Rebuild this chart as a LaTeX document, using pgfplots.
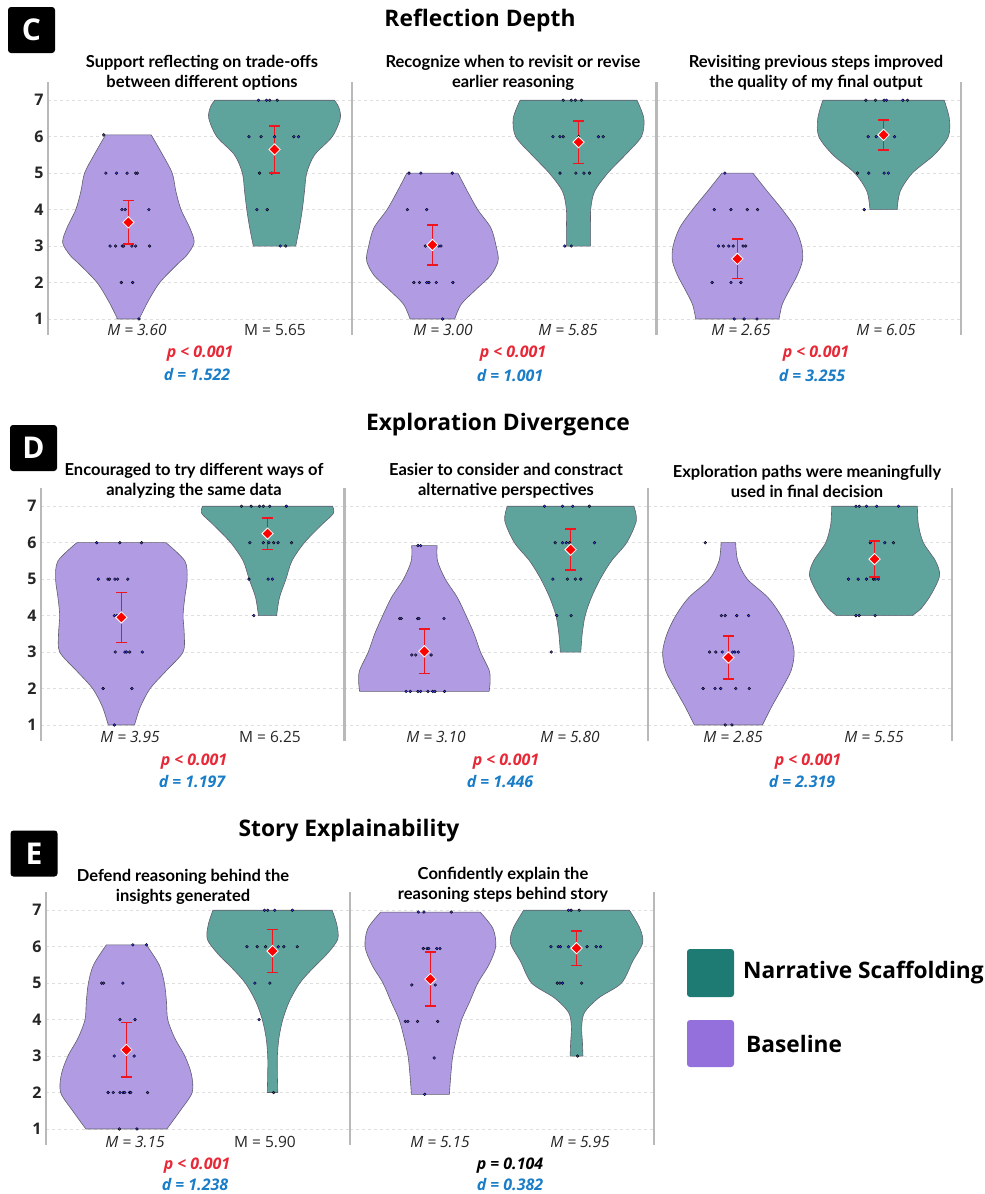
\documentclass[border=0pt]{standalone}
\usepackage{fontspec}
\setmainfont{Open Sans}
\newfontfamily\lato{Lato}
\usepackage{pgfplots}
\pgfplotsset{compat=1.18}
\usepackage{pgfplotstable}
\usepgfplotslibrary{fillbetween}

\definecolor{vpurple}{RGB}{177,155,227}
\definecolor{vteal}{RGB}{95,163,157}
\definecolor{lteal}{RGB}{30,123,116}
\definecolor{lpurple}{RGB}{147,112,219}
\definecolor{vout}{RGB}{95,95,110}
\definecolor{dotc}{RGB}{62,62,215}
\definecolor{axgray}{RGB}{185,185,185}
\definecolor{gridgray}{RGB}{222,222,222}
\definecolor{pred}{RGB}{232,40,55}
\definecolor{dblue}{RGB}{25,125,200}
\definecolor{ebred}{RGB}{240,20,30}

% ---------- violin profiles (y, half width) ----------
\pgfplotstableread{
y w
1.0 0.075
1.05 0.08
1.5 0.137
2.0 0.215
2.5 0.335
2.75 0.40
3.1 0.45
3.5 0.42
4.0 0.36
4.5 0.325
5.0 0.30
5.5 0.235
6.05 0.156
}\CaP
\pgfplotstableread{
y w
3.0 0.145
3.5 0.17
4.0 0.19
4.5 0.205
5.0 0.22
5.5 0.274
6.0 0.395
6.5 0.45
6.8 0.44
7.0 0.41
}\CaT
\pgfplotstableread{
y w
1.0 0.153
1.4 0.197
1.8 0.296
2.2 0.40
2.6 0.45
3.0 0.436
3.5 0.40
4.0 0.31
4.5 0.24
5.0 0.175
}\CbP
\pgfplotstableread{
y w
3.0 0.083
3.5 0.083
4.0 0.083
4.5 0.11
5.0 0.20
5.5 0.32
6.0 0.43
6.5 0.447
7.0 0.40
}\CbT
\pgfplotstableread{
y w
1.0 0.285
1.4 0.307
1.8 0.357
2.2 0.41
2.6 0.445
3.0 0.44
3.5 0.395
4.0 0.307
4.5 0.205
5.0 0.106
}\CcP
\pgfplotstableread{
y w
4.0 0.093
4.5 0.114
5.0 0.197
5.5 0.346
6.0 0.443
6.5 0.45
7.0 0.415
}\CcT
\pgfplotstableread{
y w
1.0 0.09
1.5 0.13
2.0 0.197
2.5 0.31
3.0 0.422
3.5 0.43
4.0 0.422
4.5 0.434
5.0 0.45
5.5 0.434
6.0 0.305
}\DaP
\pgfplotstableread{
y w
4.0 0.062
4.5 0.082
5.0 0.126
5.5 0.167
6.0 0.252
6.5 0.373
6.8 0.45
7.0 0.445
}\DaT
\pgfplotstableread{
y w
1.92 0.443
2.2 0.45
2.5 0.443
3.0 0.384
3.5 0.34
4.0 0.285
4.5 0.225
5.0 0.143
5.5 0.09
5.92 0.087
}\DbP
\pgfplotstableread{
y w
3.0 0.07
3.5 0.08
4.0 0.10
4.5 0.143
5.0 0.203
5.5 0.28
6.0 0.384
6.6 0.45
7.0 0.433
}\DbT
\pgfplotstableread{
y w
1.0 0.233
1.5 0.296
2.0 0.366
2.5 0.43
3.0 0.45
3.5 0.42
4.0 0.36
4.5 0.27
5.0 0.13
5.5 0.064
6.0 0.05
}\DcP
\pgfplotstableread{
y w
4.0 0.258
4.2 0.32
4.6 0.39
5.1 0.445
5.5 0.417
6.0 0.334
6.5 0.30
7.0 0.293
}\DcT
\pgfplotstableread{
y w
1.0 0.277
1.5 0.368
2.0 0.45
2.5 0.445
3.0 0.40
3.5 0.33
4.0 0.283
4.5 0.274
5.0 0.26
5.5 0.225
6.05 0.137
}\EaP
\pgfplotstableread{
y w
2.0 0.036
2.5 0.033
3.0 0.033
3.5 0.044
4.0 0.07
4.5 0.115
5.0 0.186
5.4 0.274
5.8 0.373
6.2 0.446
6.6 0.44
7.0 0.408
}\EaT
\pgfplotstableread{
y w
1.95 0.13
2.5 0.14
3.0 0.153
3.5 0.18
4.0 0.214
4.5 0.27
5.0 0.324
5.5 0.40
6.0 0.447
6.5 0.428
6.95 0.34
}\EbP
\pgfplotstableread{
y w
3.0 0.044
3.4 0.04
3.8 0.035
4.2 0.055
4.6 0.153
5.0 0.307
5.6 0.384
6.1 0.452
6.5 0.434
7.0 0.362
}\EbT

% ---------- individual responses (jitter dx, y) ----------
\pgfplotstableread{
dx y
-0.169 6.05
-0.154 5
-0.081 5
-0.009 5
0.050 5
0.061 5
-0.044 4
-0.022 4
0.140 4
-0.125 3
-0.088 3
-0.042 3
-0.033 3
0.024 3
0.050 3
0.145 3
-0.048 2
0.029 2
0.072 1
}\dCaP
\pgfplotstableread{
dx y
-0.110 7
-0.055 7
-0.033 7
0.018 7
-0.175 6
-0.092 6
0 6
0.132 6
0.164 6
-0.103 5
-0.018 5
-0.121 4
-0.050 4
0.039 3
0.077 3
}\dCaT
\pgfplotstableread{
dx y
-0.160 5
-0.079 5
0.136 5
-0.171 4
-0.039 4
-0.048 3
-0.013 3
0.044 3
0.059 3
-0.127 2
-0.088 2
-0.039 2
-0.024 2
0.026 2
0.140 2
0.070 1
}\dCbP
\pgfplotstableread{
dx y
-0.105 7
-0.050 7
-0.022 7
0.020 7
-0.175 6
-0.127 6
-0.105 6
0 6
0.136 6
0.169 6
-0.127 5
-0.018 5
0.037 5
0.075 5
-0.094 3
-0.050 3
}\dCbT
\pgfplotstableread{
dx y
-0.086 5
-0.158 4
-0.044 4
0.068 4
0.138 4
-0.129 3
-0.096 3
-0.059 3
-0.029 3
0.039 3
0.057 3
-0.173 2
-0.044 2
0.024 2
-0.022 1
0.046 1
0.134 1
}\dCcP
\pgfplotstableread{
dx y
-0.121 7
-0.055 7
0.004 7
0.020 7
0.132 7
0.164 7
-0.105 6
-0.050 6
0 6
0.075 6
-0.178 5
-0.101 5
0.004 5
0.033 5
-0.132 4
}\dCcT
\pgfplotstableread{
dx y
-0.169 6
-0.011 6
0.138 6
-0.158 5
-0.092 5
-0.081 5
-0.044 5
-0.026 5
0.044 5
-0.048 4
-0.031 4
-0.042 3
0.024 3
0.035 3
0.057 3
0.143 3
-0.125 2
0.072 2
-0.048 1
}\dDaP
\pgfplotstableread{
dx y
-0.178 7
-0.112 7
-0.055 7
-0.029 7
0.015 7
0.129 7
-0.121 6
-0.029 6
0.009 6
0.042 6
0.072 6
0.164 6
-0.127 5
0.004 5
0.033 5
-0.094 4
}\dDaT
\pgfplotstableread{
dx y
-0.044 5.92
-0.026 5.92
-0.169 3.92
-0.158 3.92
-0.046 3.92
-0.037 3.92
0.134 3.92
-0.086 2.92
-0.059 2.92
0.046 2.92
-0.125 1.92
-0.096 1.92
-0.044 1.92
-0.026 1.92
0.024 1.92
0.057 1.92
0.072 1.92
0.138 1.92
}\dDbP
\pgfplotstableread{
dx y
-0.178 7
-0.055 7
0.015 7
0.129 7
-0.105 6
-0.055 6
-0.029 6
-0.007 6
0.164 6
-0.121 5
-0.022 5
0.033 5
0.070 5
-0.094 4
0.004 4
-0.132 3
}\dDbT
\pgfplotstableread{
dx y
-0.158 6
-0.048 4
-0.022 4
0.057 4
0.138 4
-0.129 3
-0.086 3
-0.042 3
0.029 3
0.044 3
0.068 3
-0.173 2
-0.092 2
-0.053 2
0.050 2
0.143 2
-0.022 1
0.024 1
}\dDcP
\pgfplotstableread{
dx y
-0.127 7
-0.105 7
-0.055 7
0.015 7
0.164 7
-0.029 6
0.070 6
0.129 6
-0.178 5
-0.112 5
-0.055 5
-0.007 5
0.004 5
0.026 5
-0.127 4
-0.105 4
0.004 4
}\dDcT
\pgfplotstableread{
dx y
0.044 6.05
0.138 6.05
-0.169 5
-0.156 5
-0.024 5
-0.044 4
0.059 4
-0.083 3
0.053 3
-0.125 2
-0.090 2
-0.044 2
-0.022 2
-0.011 2
0.022 2
0.029 2
0.145 2
-0.048 1
0.072 1
}\dEaP
\pgfplotstableread{
dx y
-0.055 7
-0.033 7
0.015 7
0.136 7
-0.175 6
-0.105 6
-0.048 6
0.039 6
0.077 6
0.169 6
-0.121 5
-0.018 5
-0.092 4
0.007 2
}\dEaT
\pgfplotstableread{
dx y
-0.083 6.95
-0.044 6.95
0.143 6.95
-0.048 5.95
-0.022 5.95
-0.011 5.95
0.044 5.95
0.066 5.95
-0.127 4.95
0.033 4.95
-0.171 3.95
-0.154 3.95
-0.088 3.95
0.050 3.95
0.026 2.95
-0.039 1.95
}\dEbP
\pgfplotstableread{
dx y
-0.055 7
-0.037 7
0.018 7
-0.175 6
-0.125 6
-0.110 6
-0.055 6
0 6
0.072 6
0.134 6
0.164 6
-0.132 5
-0.114 5
-0.096 5
0.035 5
0.007 3
}\dEbT

\newcommand{\violin}[4]{%
\addplot[draw=none, smooth, name path=#4R] table[x expr={#2+\thisrow{w}}, y=y] {#1};
\addplot[draw=none, smooth, name path=#4L] table[x expr={#2-\thisrow{w}}, y=y] {#1};
\addplot[fill=#3, draw=vout, line width=0.6pt] fill between[of=#4R and #4L, reverse=true];
}
\newcommand{\jit}[2]{%
\addplot[only marks, mark=*, mark size=1.4pt, mark options={draw=none, fill=dotc}] table[x expr={#2+\thisrow{dx}}, y=y] {#1};
}
% x, mean, low, high
\newcommand{\mbar}[4]{%
\addplot[draw=ebred, line width=1.5pt, mark=-, mark size=5.5pt, mark options={draw=ebred, line width=1.5pt}] coordinates {(#1,#3) (#1,#4)};
\addplot[only marks, mark=square*, mark size=4pt, mark options={rotate=45, fill=red, draw=white, line width=0.8pt}] coordinates {(#1,#2)};
}

\pgfplotsset{vstyle/.style={
  scale only axis, width=304pt, height=253pt,
  xmin=-0.55, xmax=1.53, ymin=0.56, ymax=7.5,
  axis x line=none, axis y line=box, xtick=\empty,
  y axis line style={draw=axgray, line width=1.6pt},
  ytick={1,2,3,4,5,6,7}, ymajorgrids,
  grid style={dashed, gridgray, line width=0.6pt},
  major tick length=0pt,
  yticklabel={\bfseries\fontsize{16}{18}\selectfont\pgfmathprintnumber[assume math mode=true]{\tick}},
  yticklabel style={xshift=-1pt, text=black!85},
  clip=false, anchor=north west,
}, noticks/.style={yticklabel style={opacity=0}}}
\tikzset{
  ptitle/.style={font=\lato\bfseries\fontsize{16.5}{20}\selectfont, align=center, inner sep=0pt},
  stitle/.style={font=\bfseries\fontsize{22.8}{26}\selectfont, inner sep=0pt},
  mlab/.style={font=\itshape\fontsize{15.5}{17}\selectfont, inner sep=0pt, text=black!85},
  mlabu/.style={font=\fontsize{15.5}{17}\selectfont, inner sep=0pt, text=black!85},
  plab/.style={font=\bfseries\itshape\fontsize{16}{18}\selectfont, inner sep=0pt, text=pred},
  dlab/.style={font=\bfseries\itshape\fontsize{16}{18}\selectfont, inner sep=0pt, text=dblue},
  boxlab/.style={fill=black, rounded corners=3pt, minimum width=47pt, minimum height=46pt, text=white, font=\bfseries\fontsize{30}{32}\selectfont, inner sep=0pt},
}

\begin{document}
\begin{tikzpicture}

% ===================== C =====================
\node[boxlab] at (31.5pt,-30pt) {C};
\node[stitle] at (480pt,-21pt) {Reflection Depth};

\begin{axis}[vstyle, at={(48pt,-82pt)}]
\violin{\CaP}{0}{vpurple}{caP}
\violin{\CaT}{1}{vteal}{caT}
\jit{\dCaP}{0}\jit{\dCaT}{1}
\mbar{0}{3.65}{3.05}{4.25}\mbar{1}{5.65}{5.01}{6.29}
\end{axis}
\begin{axis}[vstyle, noticks, at={(352pt,-82pt)}]
\violin{\CbP}{0}{vpurple}{cbP}
\violin{\CbT}{1}{vteal}{cbT}
\jit{\dCbP}{0}\jit{\dCbT}{1}
\mbar{0}{3.03}{2.48}{3.58}\mbar{1}{5.85}{5.27}{6.43}
\end{axis}
\begin{axis}[vstyle, noticks, at={(657pt,-82pt)}]
\violin{\CcP}{0}{vpurple}{ccP}
\violin{\CcT}{1}{vteal}{ccT}
\jit{\dCcP}{0}\jit{\dCcT}{1}
\mbar{0}{2.65}{2.11}{3.19}\mbar{1}{6.05}{5.64}{6.46}
\end{axis}

\node[ptitle] at (202pt,-73pt) {Support reflecting on trade-offs\\between different options};
\node[ptitle] at (513pt,-73pt) {Recognize when to revisit or revise\\earlier reasoning};
\node[ptitle] at (816pt,-73pt) {Revisiting previous steps improved\\the quality of my final output};

\node[mlab] at (137pt,-330pt) {M = 3.60};
\node[mlabu] at (275pt,-330pt) {M = 5.65};
\node[mlab] at (443pt,-330pt) {M = 3.00};
\node[mlab] at (568pt,-330pt) {M = 5.85};
\node[mlab] at (741pt,-330pt) {M = 2.65};
\node[mlab] at (886pt,-330pt) {M = 6.05};
\node[plab] at (200pt,-354pt) {p < 0.001};
\node[dlab] at (197pt,-375pt) {d = 1.522};
\node[plab] at (513pt,-354pt) {p < 0.001};
\node[dlab] at (510pt,-376pt) {d = 1.001};
\node[plab] at (816pt,-354pt) {p < 0.001};
\node[dlab] at (812pt,-376pt) {d = 3.255};

% ===================== D =====================
\node[boxlab] at (33.5pt,-448pt) {D};
\node[stitle] at (498pt,-425pt) {Exploration Divergence};

\begin{axis}[vstyle, at={(41pt,-488pt)}]
\violin{\DaP}{0}{vpurple}{daP}
\violin{\DaT}{1}{vteal}{daT}
\jit{\dDaP}{0}\jit{\dDaT}{1}
\mbar{0}{3.95}{3.26}{4.64}\mbar{1}{6.25}{5.82}{6.68}
\end{axis}
\begin{axis}[vstyle, noticks, at={(344pt,-488pt)}]
\violin{\DbP}{0}{vpurple}{dbP}
\violin{\DbT}{1}{vteal}{dbT}
\jit{\dDbP}{0}\jit{\dDbT}{1}
\mbar{0}{3.02}{2.41}{3.63}\mbar{1}{5.81}{5.25}{6.37}
\end{axis}
\begin{axis}[vstyle, noticks, at={(648pt,-488pt)}]
\violin{\DcP}{0}{vpurple}{dcP}
\violin{\DcT}{1}{vteal}{dcT}
\jit{\dDcP}{0}\jit{\dDcT}{1}
\mbar{0}{2.85}{2.26}{3.44}\mbar{1}{5.55}{5.06}{6.04}
\end{axis}

\node[ptitle] at (194pt,-481pt) {Encouraged to try different ways of\\analyzing the same data};
\node[ptitle] at (506pt,-481pt) {Easier to consider and constract\\alternative perspectives};
\node[ptitle] at (807pt,-481pt) {Exploration paths were meaningfully\\used in final decision};

\node[mlab] at (130pt,-737pt) {M = 3.95};
\node[mlabu] at (270pt,-737pt) {M = 6.25};
\node[mlab] at (436pt,-737pt) {M = 3.10};
\node[mlab] at (570pt,-737pt) {M = 5.80};
\node[mlab] at (733pt,-737pt) {M = 2.85};
\node[mlab] at (874pt,-737pt) {M = 5.55};
\node[plab] at (194pt,-762pt) {p < 0.001};
\node[dlab] at (192pt,-782pt) {d = 1.197};
\node[plab] at (506pt,-762pt) {p < 0.001};
\node[dlab] at (500pt,-782pt) {d = 1.446};
\node[plab] at (808pt,-762pt) {p < 0.001};
\node[dlab] at (802pt,-782pt) {d = 2.319};

% ===================== E =====================
\node[boxlab] at (34pt,-853.5pt) {E};
\node[stitle] at (349pt,-831pt) {Story Explainability};

\begin{axis}[vstyle, at={(46pt,-892pt)}]
\violin{\EaP}{0}{vpurple}{eaP}
\violin{\EaT}{1}{vteal}{eaT}
\jit{\dEaP}{0}\jit{\dEaT}{1}
\mbar{0}{3.17}{2.42}{3.92}\mbar{1}{5.88}{5.29}{6.47}
\end{axis}
\begin{axis}[vstyle, noticks, at={(350pt,-892pt)}]
\violin{\EbP}{0}{vpurple}{ebP}
\violin{\EbT}{1}{vteal}{ebT}
\jit{\dEbP}{0}\jit{\dEbT}{1}
\mbar{0}{5.11}{4.37}{5.85}\mbar{1}{5.96}{5.49}{6.43}
\end{axis}

\node[ptitle] at (183pt,-887pt) {Defend reasoning behind the\\insights generated};
\node[ptitle] at (503pt,-885pt) {Confidently explain the\\reasoning steps behind story};

\node[mlab] at (135pt,-1142pt) {M = 3.15};
\node[mlabu] at (265pt,-1142pt) {M = 5.90};
\node[mlab] at (440pt,-1142pt) {M = 5.15};
\node[mlab] at (580pt,-1142pt) {M = 5.95};
\node[plab] at (197pt,-1166pt) {p < 0.001};
\node[dlab] at (195pt,-1184.5pt) {d = 1.238};
\node[plab, text=black] at (510pt,-1166pt) {p = 0.104};
\node[dlab] at (510pt,-1184.5pt) {d = 0.382};

% legend
\fill[lteal, rounded corners=3pt] (687pt,-949pt) rectangle (734pt,-997pt);
\fill[lpurple, rounded corners=3pt] (687pt,-1020pt) rectangle (734pt,-1067pt);
\node[anchor=west, inner sep=0pt, font=\bfseries\fontsize{22.7}{25}\selectfont] at (743pt,-973pt) {Narrative Scaffolding};
\node[anchor=west, inner sep=0pt, font=\bfseries\fontsize{22.7}{25}\selectfont] at (746pt,-1044pt) {Baseline};

\pgfresetboundingbox
\path[use as bounding box] (0pt,0pt) rectangle (985pt,-1194pt);
\end{tikzpicture}
\end{document}
